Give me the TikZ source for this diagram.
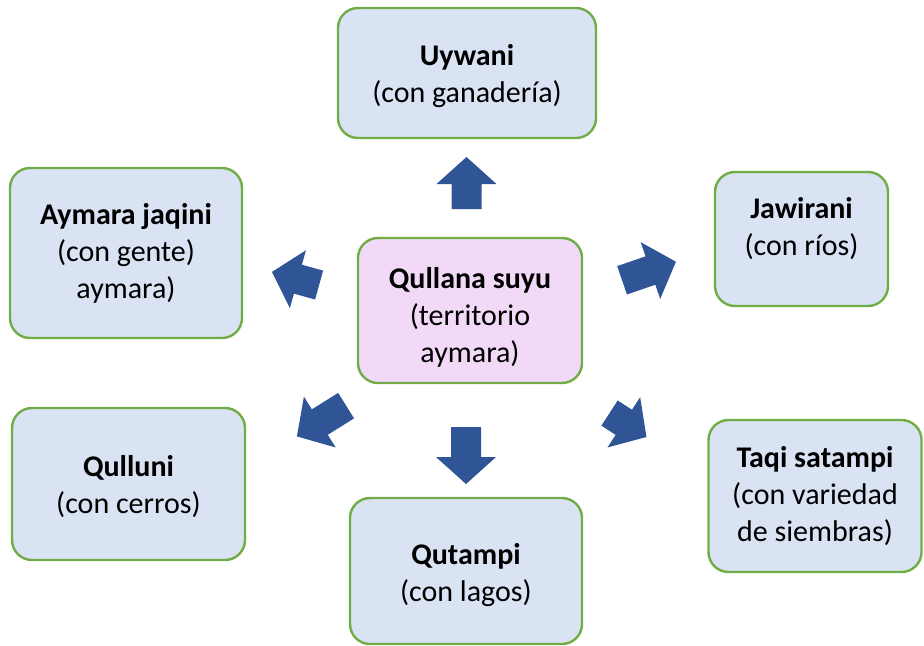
\documentclass[tikz,border=0pt]{standalone}
\usepackage{fontspec}
\setmainfont{Carlito}
\usetikzlibrary{positioning}
\definecolor{cajaazul}{RGB}{218,227,243}
\definecolor{bordeverde}{RGB}{112,173,71}
\definecolor{lila}{RGB}{242,217,247}
\definecolor{flecha}{RGB}{47,85,151}

\begin{document}
\begin{tikzpicture}[
              x=0.5pt, y=-0.5pt,
              caja/.style={draw=bordeverde, line width=1.2pt, fill=cajaazul, rounded corners=10pt, align=center, inner sep=0pt, font=\fontsize{15}{18.5}\selectfont},
              centro/.style={caja, fill=lila},
              pics/flechabloque/.style={code={
                \fill[flecha] ({-#1/2},-15) -- ({#1/2-27},-15) -- ({#1/2-27},-30) -- ({#1/2},0)
                  -- ({#1/2-27},30) -- ({#1/2-27},15) -- ({-#1/2},15) -- cycle;}}
            ]
            \useasboundingbox (0,0) rectangle (924,645);

            % Territorio central
            \node[centro, minimum width=112pt, minimum height=72.5pt] (Q) at (470,310.5) {\rule{0pt}{17pt}{\bfseries Qullana suyu}\\(territorio\\aymara)};

            % Recuadros alrededor
            \node[caja, minimum width=129pt, minimum height=65pt] (uywani) at (467,73) {\rule{0pt}{14pt}{\bfseries Uywani}\\(con ganadería)};
            \node[caja, minimum width=116pt, minimum height=85pt] (aymara) at (126,253) {{\bfseries Aymara jaqini}\\(con gente)\\aymara)};
            \node[caja, minimum width=86.5pt, minimum height=67pt] (jawirani) at (801.5,239) {{\bfseries Jawirani}\\(con ríos)\rule[-12.5pt]{0pt}{0pt}};
            \node[caja, minimum width=116.5pt, minimum height=76pt] (qulluni) at (128.5,484) {\rule{0pt}{13pt}{\bfseries Qulluni}\\(con cerros)};
            \node[caja, minimum width=116pt, minimum height=73pt] (qutampi) at (466,571) {\rule{0pt}{15pt}{\bfseries Qutampi}\\(con lagos)};
            \node[caja, minimum width=106.5pt, minimum height=76pt] (taqi) at (815,496) {{\bfseries Taqi satampi}\\(con variedad\\de siembras)};

            % Flechas de bloque
            \pic[rotate=90] at (466.5,183) {flechabloque=52};
            \pic[rotate=-90] at (466,455.5) {flechabloque=57};
            \pic[rotate=164.5] at (295.5,278.5) {flechabloque=49};
            \pic[rotate=19] at (649,271) {flechabloque=57};
            \pic[rotate=212] at (321.5,421) {flechabloque=58};
            \pic[rotate=-33] at (628,425) {flechabloque=44};

            \end{tikzpicture}
\end{document}
